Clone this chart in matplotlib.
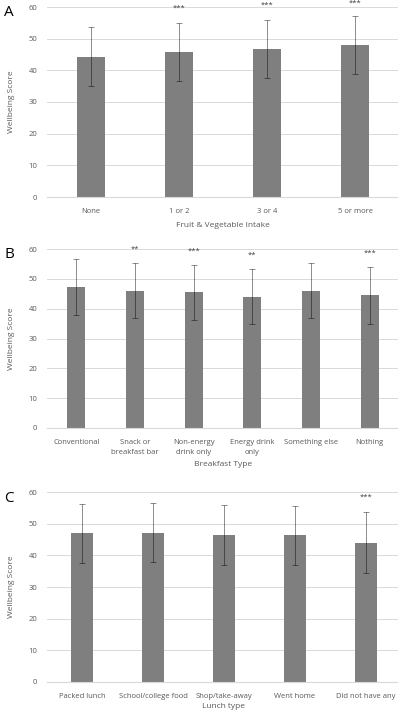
import numpy as np
import matplotlib.pyplot as plt

# panel A - fruit & veg
fv_labels = ['None', '1 or 2', '3 or 4', '5 or more']
fv_means = [44.2, 45.8, 46.6, 48.0]
fv_lo = [35.0, 36.7, 37.5, 38.8]
fv_hi = [53.7, 55.0, 55.9, 57.3]
fv_sig = ['', '***', '***', '***']

# panel B - breakfast
bf_labels = ['Conventional', 'Snack or\nbreakfast bar', 'Non-energy\ndrink only',
             'Energy drink\nonly', 'Something else', 'Nothing']
bf_means = [47.2, 46.0, 45.5, 44.0, 46.0, 44.5]
bf_lo = [38.0, 37.0, 36.3, 34.7, 37.0, 35.0]
bf_hi = [56.5, 55.2, 54.8, 53.4, 55.2, 54.0]
bf_sig = ['', '**', '***', '**', '', '***']

# panel C - lunch
lu_labels = ['Packed lunch', 'School/college food', 'Shop/take-away',
             'Went home', 'Did not have any']
lu_means = [46.9, 47.2, 46.4, 46.4, 44.0]
lu_lo = [37.5, 37.8, 37.0, 37.1, 34.3]
lu_hi = [56.2, 56.5, 55.8, 55.7, 53.6]
lu_sig = ['', '', '', '', '***']

W, H = 398, 710
fig = plt.figure(figsize=(W / 100, H / 100), dpi=100)
plt.rcParams['font.family'] = ['Open Sans', 'DejaVu Sans']

txt_col = '#595959'


def panel(rect, letter, labels, means, lo, hi, sig, xlabel, xlab_pad):
    left, top, right, bottom = rect
    ax = fig.add_axes([left / W, 1 - bottom / H, (right - left) / W, (bottom - top) / H])
    x = np.arange(len(labels))
    means = np.array(means)
    err = [means - np.array(lo), np.array(hi) - means]
    ax.bar(x, means, width=0.31, color='#7f7f7f', zorder=2)
    ax.errorbar(x, means, yerr=err, fmt='none', ecolor='black', alpha=0.45,
                elinewidth=0.7, capsize=2.2, capthick=0.7, zorder=3)
    for xi, h, s in zip(x, hi, sig):
        if s:
            # keep the stars just inside the figure for the tallest bar
            ax.text(xi, min(h + 4.6, 61.2), s, ha='center', va='center',
                    fontsize=5.5, color='#404040', clip_on=False)
    ax.set_xlim(-0.5, len(labels) - 0.5)
    ax.set_ylim(0, 60)
    ax.set_yticks(range(0, 61, 10))
    ax.yaxis.grid(True, color='#d9d9d9', linewidth=0.7, zorder=0)
    ax.set_axisbelow(True)
    for s in ['top', 'right', 'left']:
        ax.spines[s].set_visible(False)
    ax.spines['bottom'].set_color('#d9d9d9')
    ax.spines['bottom'].set_linewidth(0.8)
    ax.tick_params(length=0, labelsize=5.5, labelcolor=txt_col, pad=7)
    ax.set_xticks(x)
    ax.set_xticklabels(labels, linespacing=1.5)
    ax.tick_params(axis='x', pad=8)
    ax.set_ylabel('Wellbeing Score', fontsize=6, color=txt_col, labelpad=10)
    ax.set_xlabel(xlabel, fontsize=6, color=txt_col, labelpad=xlab_pad)
    fig.text(4 / W, 1 - (top + 6) / H, letter, fontsize=11, color='black',
             ha='left', va='center')
    return ax


panel((47, 7, 399, 197), 'A', fv_labels, fv_means, fv_lo, fv_hi, fv_sig,
      'Fruit & Vegetable Intake', 5)
panel((47, 249, 399, 428), 'B', bf_labels, bf_means, bf_lo, bf_hi, bf_sig,
      'Breakfast Type', 4)
panel((47, 492, 401, 682), 'C', lu_labels, lu_means, lu_lo, lu_hi, lu_sig,
      'Lunch type', 2)

fig.savefig('out.png', dpi=100)
